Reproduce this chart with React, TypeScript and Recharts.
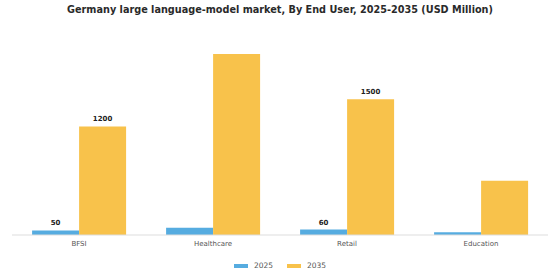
import React from 'react';
import { BarChart, Bar, XAxis, YAxis, Legend, LabelList } from 'recharts';

const categories = ['BFSI', 'Healthcare', 'Retail', 'Education'];
const values2025 = [50, 80, 60, 30];
const values2035 = [1200, 2000, 1500, 600];
// only some bars carry a value label in the original
const showLabel = [true, false, true, false];

const data = categories.map((name, i) => ({
  name,
  y2025: values2025[i],
  y2035: values2035[i],
}));

const FONT = '"DejaVu Sans", sans-serif';
const BLUE = '#56ACE0';
const ORANGE = '#F8C24B';

const renderLabel = (props: any) => {
  const { x, y, width, value, index } = props;
  if (!showLabel[index]) return null;
  return (
    <text
      x={x + width / 2}
      y={y - 5}
      textAnchor="middle"
      fontSize={7}
      fontWeight="bold"
      fontFamily={FONT}
      fill="#222"
    >
      {value}
    </text>
  );
};

const renderLegend = () => (
  <div style={{ display: 'flex', justifyContent: 'center', fontFamily: FONT, fontSize: 7.5, color: '#555' }}>
    {[
      { label: '2025', color: BLUE },
      { label: '2035', color: ORANGE },
    ].map((item) => (
      <div key={item.label} style={{ display: 'flex', alignItems: 'center', margin: '0 7px' }}>
        <span style={{ display: 'inline-block', width: 14, height: 4, background: item.color, marginRight: 6 }} />
        {item.label}
      </div>
    ))}
  </div>
);

export default function App() {
  return (
    <div style={{ position: 'absolute', left: 0, top: 0, width: 560, height: 280, background: '#fff' }}>
      <div
        style={{
          position: 'absolute',
          top: 4,
          left: 0,
          width: 560,
          textAlign: 'center',
          fontFamily: FONT,
          fontWeight: 'bold',
          fontSize: 9.7,
          color: '#2a2a2a',
        }}
      >
        Germany large language-model market, By End User, 2025-2035 (USD Million)
      </div>
      <BarChart
        width={560}
        height={280}
        data={data}
        margin={{ top: 54, right: 12, left: 12, bottom: 3 }}
        barCategoryGap="15%"
        barGap={0}
      >
        <XAxis
          dataKey="name"
          tickLine={false}
          axisLine={{ stroke: '#ddd' }}
          tick={{ fontSize: 7, fill: '#555', fontFamily: FONT }}
          tickMargin={0}
          height={26}
        />
        <YAxis hide domain={[0, 2000]} />
        <Legend content={renderLegend} verticalAlign="bottom" height={16} />
        <Bar dataKey="y2025" fill={BLUE} isAnimationActive={false}>
          <LabelList dataKey="y2025" content={renderLabel} />
        </Bar>
        <Bar dataKey="y2035" fill={ORANGE} isAnimationActive={false}>
          <LabelList dataKey="y2035" content={renderLabel} />
        </Bar>
      </BarChart>
    </div>
  );
}
